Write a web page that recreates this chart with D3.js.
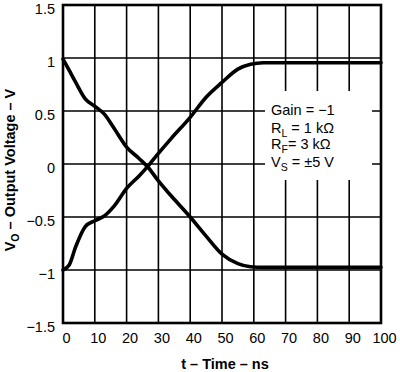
<!DOCTYPE html>
<html><head><meta charset="utf-8">
<script src="https://cdn.jsdelivr.net/npm/d3@7"></script>
<style>body{margin:0;background:#fff;}svg{display:block;font-family:"Liberation Sans",Arial,sans-serif;}</style>
</head><body><div id="chart"></div>
<script>
const timeNs = [0,2,4,7,10,13,16,20,24,27,30,34,40,45,50,55,59,63,70,80,90,100];
const fallingV = [0.99,0.88,0.77,0.615,0.545,0.47,0.34,0.16,0.05,-0.04,-0.16,-0.30,-0.50,-0.68,-0.85,-0.94,-0.97,-0.975,-0.975,-0.975,-0.975,-0.975];
const risingV = [-1.0,-0.95,-0.78,-0.59,-0.535,-0.49,-0.40,-0.23,-0.11,-0.01,0.10,0.24,0.44,0.63,0.77,0.895,0.94,0.955,0.955,0.955,0.955,0.955];
const xTicks = [0,10,20,30,40,50,60,70,80,90,100];
const yTicks = [-1.5,-1,-0.5,0,0.5,1,1.5];
const yTickLabels = ["\u22121.5","\u22121","\u22120.5","0","0.5","1","1.5"];
const legendLines = [["Gain = \u22121"],["R","L"," = 1 k\u03A9"],["R","F","= 3 k\u03A9"],["V","S"," = \u00B15 V"]];

const W=400,H=372,m={l:63,r:19,t:5,b:49};
const FS=14.5;
const svg=d3.select("#chart").append("svg").attr("width",W).attr("height",H);
const x=d3.scaleLinear().domain([0,100]).range([m.l,W-m.r]);
const y=d3.scaleLinear().domain([-1.5,1.5]).range([H-m.b,m.t]);

const g=svg.append("g");
// grid
g.selectAll(".vg").data(xTicks).enter().append("line")
 .attr("x1",d=>x(d)).attr("x2",d=>x(d)).attr("y1",y(-1.5)).attr("y2",y(1.5))
 .attr("stroke","#000").attr("stroke-width",1.6);
g.selectAll(".hg").data(yTicks).enter().append("line")
 .attr("y1",d=>y(d)).attr("y2",d=>y(d)).attr("x1",x(0)).attr("x2",x(100))
 .attr("stroke","#000").attr("stroke-width",1.6);

// legend box (white, covers grid)
svg.append("rect").attr("x",265).attr("y",91).attr("width",107).attr("height",89).attr("fill","#fff");

// frame
svg.append("rect").attr("x",x(0)).attr("y",y(1.5)).attr("width",x(100)-x(0)).attr("height",y(-1.5)-y(1.5))
 .attr("fill","none").attr("stroke","#000").attr("stroke-width",2.6);

// axes labels
const xAxis=d3.axisBottom(x).tickValues(xTicks).tickSize(0).tickPadding(10).tickFormat(d3.format("d"));
const xa=svg.append("g").attr("transform",`translate(3,${y(-1.5)})`).call(xAxis);
xa.select(".domain").remove();
xa.selectAll("text").attr("font-size",FS).attr("fill","#000").attr("font-family","Liberation Sans, Arial, sans-serif");
const yAxis=d3.axisLeft(y).tickValues(yTicks).tickSize(0).tickPadding(8).tickFormat((d,i)=>yTickLabels[i]);
const ya=svg.append("g").attr("transform",`translate(${x(0)},0)`).call(yAxis);
ya.select(".domain").remove();
ya.selectAll("text").attr("font-size",FS).attr("fill","#000").attr("dy","0.6em").attr("font-family","Liberation Sans, Arial, sans-serif");

// curves
const line=d3.line().x(d=>x(d[0])).y(d=>y(d[1])).curve(d3.curveMonotoneX);
[fallingV,risingV].forEach(vs=>{
  svg.append("path").datum(timeNs.map((t,i)=>[t,vs[i]])).attr("d",line)
   .attr("fill","none").attr("stroke","#000").attr("stroke-width",3.6).attr("stroke-linejoin","round").attr("stroke-linecap","round");
});

// legend text
const lt=svg.append("g").attr("font-size",FS).attr("fill","#000");
const baselines=[115,133,149,167];
legendLines.forEach((parts,i)=>{
  const t=lt.append("text").attr("x",271).attr("y",baselines[i]);
  if(parts.length===1){t.text(parts[0]);}
  else{
    t.append("tspan").text(parts[0]);
    t.append("tspan").attr("font-size",10.5).attr("dy",3.5).text(parts[1]);
    t.append("tspan").attr("dy",-3.5).text(parts[2]);
  }
});

// axis titles
svg.append("text").attr("x",225).attr("y",369).attr("text-anchor","middle")
 .attr("font-size",14.5).attr("font-weight","bold").text("t \u2013 Time \u2013 ns");
const yt=svg.append("text").attr("transform",`translate(15,170) rotate(-90)`).attr("text-anchor","middle")
 .attr("font-size",14.5).attr("font-weight","bold");
yt.append("tspan").text("V");
yt.append("tspan").attr("font-size",10.5).attr("dy",3.5).text("O");
yt.append("tspan").attr("dy",-3.5).text(" \u2013 Output Voltage \u2013 V");
</script></body></html>
